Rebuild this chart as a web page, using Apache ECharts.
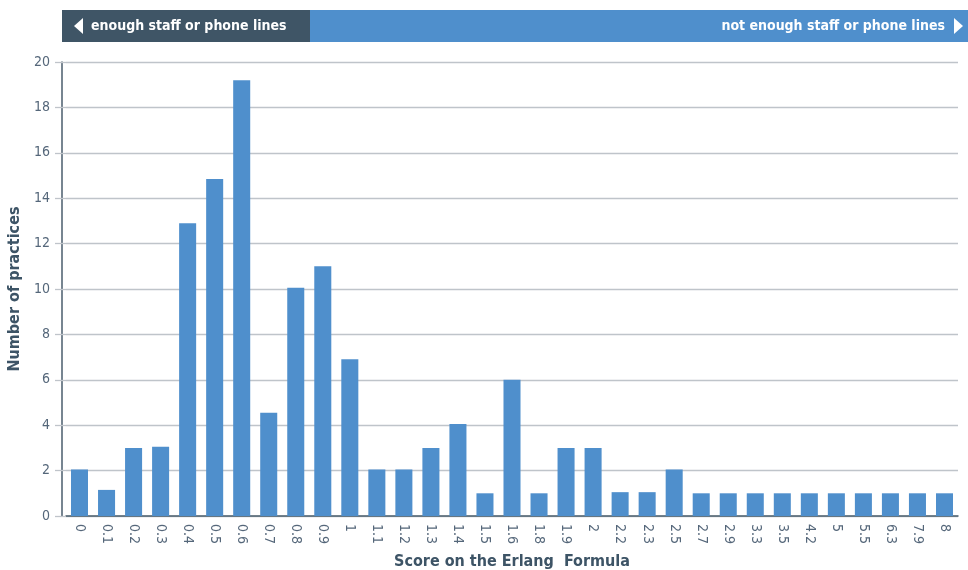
<!DOCTYPE html>
<html><head><meta charset="utf-8">
<script src="https://cdn.jsdelivr.net/npm/echarts@6/dist/echarts.min.js"></script>
<style>html,body{margin:0;padding:0;background:#fff}#c{width:968px;height:570px}</style>
</head><body><div id="c"></div>
<script>
const categories = ['0','0.1','0.2','0.3','0.4','0.5','0.6','0.7','0.8','0.9','1','1.1','1.2','1.3','1.4','1.5','1.6','1.8','1.9','2','2.2','2.3','2.5','2.7','2.9','3.3','3.5','4.2','5','5.5','6.3','7.9','8'];
const practices = [2.05,1.15,3,3.05,12.9,14.85,19.2,4.55,10.05,11,6.9,2.05,2.05,3,4.05,1,6,1,3,3,1.05,1.05,2.05,1,1,1,1,1,1,1,1,1,1];
const yTicks = [0,2,4,6,8,10,12,14,16,18,20];
const leftBanner = 'enough staff or phone lines';
const rightBanner = 'not enough staff or phone lines';

const chart = echarts.init(document.getElementById('c'));
const txt = '#55677a';
const grid = '#bfc4ca';
chart.setOption({
  animation:false,
  grid:{left:66,right:10,top:62,bottom:54,containLabel:false,outerBoundsMode:'none'},
  xAxis:{type:'category',data:categories,
    name:'Score on the Erlang  Formula',nameLocation:'middle',nameGap:38,
    nameTextStyle:{color:'#3d5466',fontWeight:'bold',fontSize:16,fontFamily:'DejaVu Sans Condensed'},
    axisLine:{lineStyle:{color:'#4a5d6c',width:1.5}},axisTick:{show:false},
    axisLabel:{rotate:-90,color:txt,fontSize:14,fontFamily:'DejaVu Sans Condensed',margin:8,interval:0}},
  yAxis:[{type:'value',min:0,max:20,interval:2,position:'left',offset:4,
    name:'Number of practices',nameLocation:'middle',nameGap:36,
    nameTextStyle:{color:'#3d5466',fontWeight:'bold',fontSize:16,fontFamily:'DejaVu Sans Condensed'},
    axisLine:{show:true,lineStyle:{color:'#4a5d6c',width:1.5}},
    axisTick:{show:true,inside:true,length:4,lineStyle:{color:grid,width:1.3}},
    axisLabel:{color:txt,fontSize:14,fontFamily:'DejaVu Sans Condensed',margin:12,
      formatter:v=>yTicks.includes(v)?String(v):''},
    splitLine:{lineStyle:{color:grid,width:1.3}}},
   {type:'value',min:0,max:20,interval:2,position:'left',offset:4,
    axisLine:{show:false},axisLabel:{show:false},splitLine:{show:false},
    axisTick:{show:true,length:7,lineStyle:{color:grid,width:1.3}}}],
  series:[{type:'bar',data:practices,yAxisIndex:0,barCategoryGap:'37%',itemStyle:{color:'#4f8fcc'}}],
  graphic:[
    {type:'rect',shape:{x:310,y:10,width:658,height:32},style:{fill:'#4f8fcc'}},
    {type:'rect',shape:{x:62,y:10,width:248,height:32},style:{fill:'#3f5566'}},
    {type:'polygon',shape:{points:[[74,26],[83,18],[83,34]]},style:{fill:'#fff'}},
    {type:'text',x:91,y:26,style:{text:leftBanner,fill:'#fff',font:'bold 14px "DejaVu Sans Condensed"',verticalAlign:'middle'}},
    {type:'polygon',shape:{points:[[963,26],[954,18],[954,34]]},style:{fill:'#fff'}},
    {type:'text',x:945,y:26,style:{text:rightBanner,fill:'#fff',font:'bold 14px "DejaVu Sans Condensed"',verticalAlign:'middle',align:'right'}}
  ]
});
</script></body></html>
